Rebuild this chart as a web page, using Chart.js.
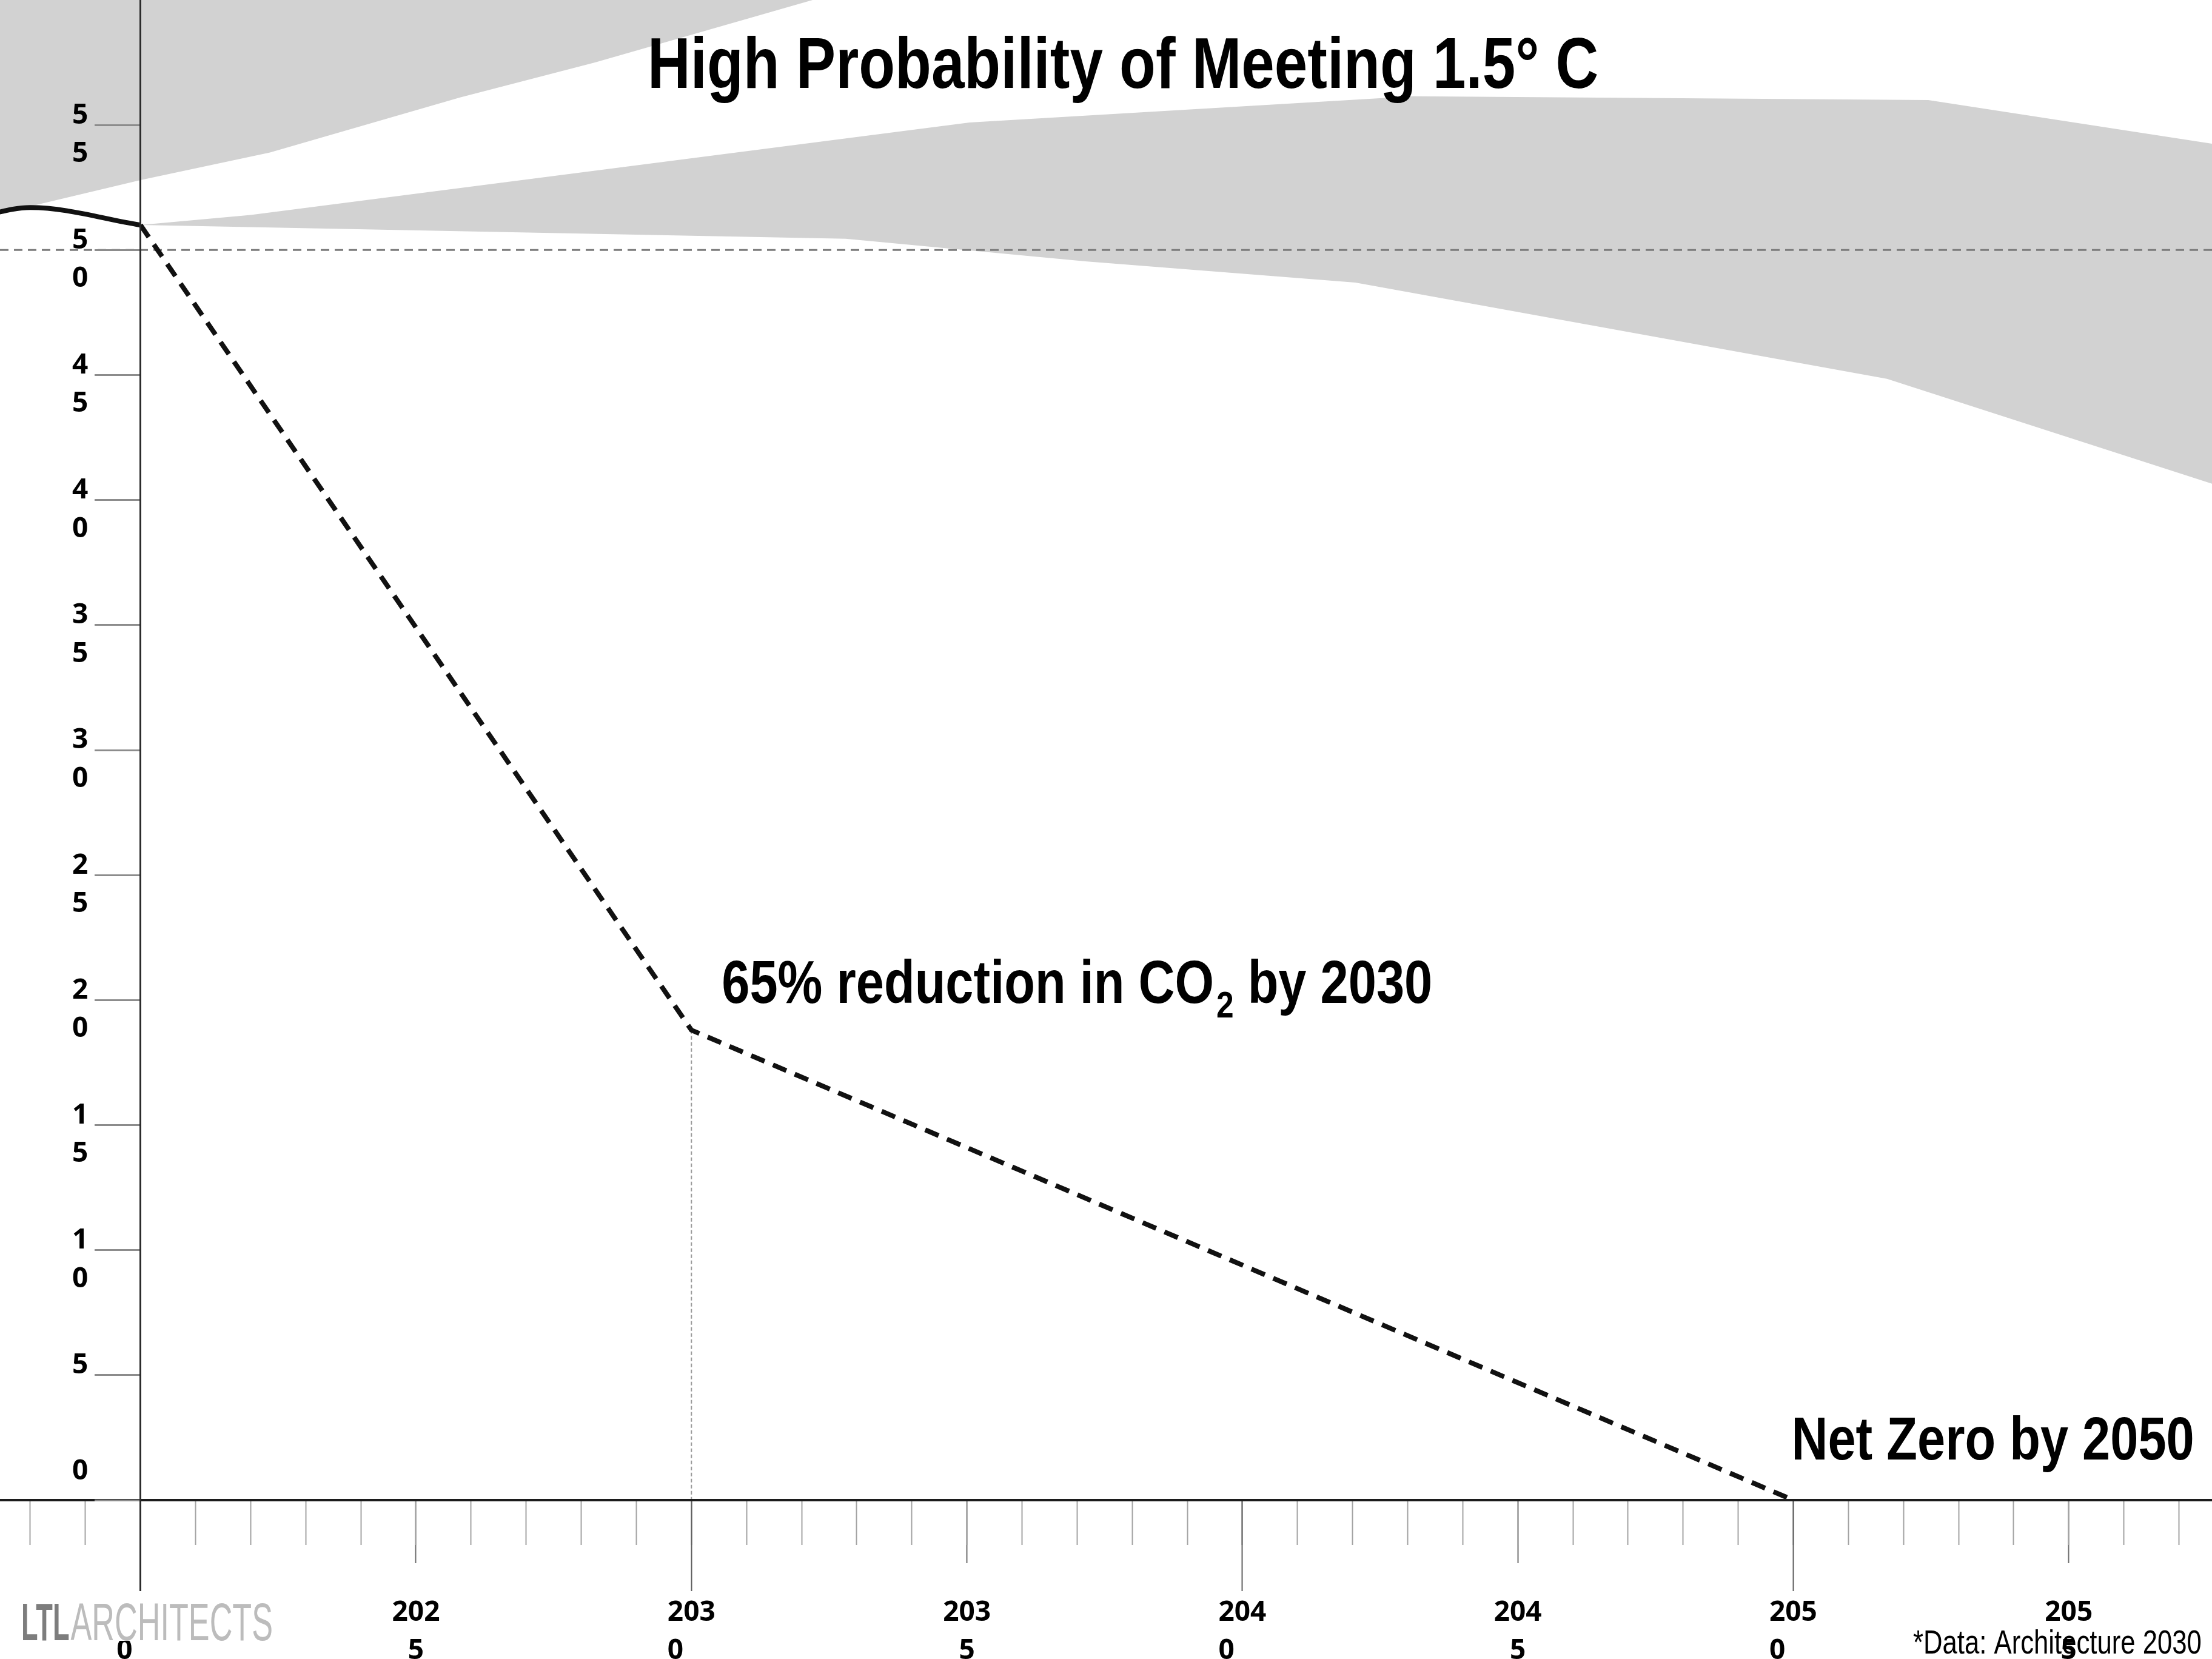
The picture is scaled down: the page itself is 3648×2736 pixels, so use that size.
<!DOCTYPE html>
<html>
<head>
<meta charset="utf-8">
<title>High Probability of Meeting 1.5° C</title>
<script src="https://cdn.jsdelivr.net/npm/chart.js@4.4.1/dist/chart.umd.min.js"></script>
<style>
  html, body { margin: 0; padding: 0; background: #ffffff; }
  #wrap { position: relative; width: 3648px; height: 2736px; overflow: hidden; background: #ffffff; }
  #wrap canvas { display: block; }
</style>
</head>
<body>
<div id="wrap"><canvas id="chart"></canvas></div>
<script>
// ---- axis ranges ----
const X_MIN = 2017.45;
const X_MAX = 2057.6;
const Y_MIN = 0;
const Y_MAX = 60;
// the vertical axis sits on 2020; its labels are set in a column just left of the tick marks
const AXIS_YEAR = 2020;
const LABEL_COLUMN_YEAR = 2019.05;

// ---- historical emissions (Gt CO2) ----
const historyYears  = [2017, 2018, 2020];
const historyValues = [51.3, 51.7, 51.0];

// ---- reduction pathway: 65% by 2030, net zero by 2050 ----
const pathwayYears  = [2020, 2030, 2050];
const pathwayValues = [51.0, 18.8, 0];

// ---- shaded region above the high-emission edge ----
const highEdgeYears  = [2017.45, 2018, 2020, 2022.35, 2025.8, 2028.25, 2032.2];
const highEdgeValues = [51.55, 51.75, 52.8, 53.9, 56.1, 57.5, 60.0];

// ---- shaded scenario band ----
const bandUpperYears  = [2020, 2022, 2035.05, 2043.1, 2052.45, 2057.6];
const bandUpperValues = [51.0, 51.4, 55.1, 56.15, 56.0, 54.25];
const bandLowerYears  = [2020, 2032.8, 2037.15, 2042.05, 2051.7, 2057.6];
const bandLowerValues = [51.0, 50.45, 49.55, 48.7, 44.85, 40.65];

// ---- reference level ----
const referenceLevel = 50;

// ---- tick values and labels ----
const yTickValues = [0, 5, 10, 15, 20, 25, 30, 35, 40, 45, 50, 55];
const yTickLabels = [
  ['0', '', ''], ['5', ''], ['1', '0'], ['1', '5'], ['2', '0'], ['2', '5'],
  ['3', '0'], ['3', '5'], ['4', '0'], ['4', '5'], ['5', '0'], ['5', '5']
];
const FS = '\u2007';
const xTickValues = [2020, 2025, 2030, 2035, 2040, 2045, 2050, 2055];
const xTickLabels = [
  ['202', '0' + FS + FS], ['202', '5'], ['203', '0' + FS + FS], ['203', '5'],
  ['204', '0' + FS + FS], ['204', '5'], ['205', '0' + FS + FS], ['205', '5']
];
const midTickValues = [2025, 2035, 2045, 2055];
const minorTickValues = [
  2018, 2019, 2020, 2021, 2022, 2023, 2024, 2025, 2026, 2027,
  2028, 2029, 2030, 2031, 2032, 2033, 2034, 2035, 2036, 2037,
  2038, 2039, 2040, 2041, 2042, 2043, 2044, 2045, 2046, 2047,
  2048, 2049, 2050, 2051, 2052, 2053, 2054, 2055, 2056, 2057
];

// ---- text ----
const TITLE = 'High Probability of Meeting 1.5\u00B0 C';
const NOTE_2030 = ['65% reduction in CO', '2', ' by 2030'];
const NOTE_2050 = 'Net Zero by 2050';
const SOURCE = '*Data: Architecture 2030';
const LOGO = ['LTL', 'ARCHITECTS'];

const SHADE = '#d2d2d2';
const INK = '#111111';

const pts = (xs, ys) => xs.map((x, i) => ({ x: x, y: ys[i] }));

const tickFont = { family: '"Open Sans", "Noto Sans", sans-serif', weight: 'bold', size: 46, lineHeight: 1.38 };

function zeroPad(s) {
  s.paddingTop = 0; s.paddingBottom = 0; s.paddingLeft = 0; s.paddingRight = 0;
}

// draw horizontally condensed text
function condensed(ctx, text, x, y, font, sx, color) {
  ctx.save();
  ctx.font = font;
  ctx.fillStyle = color;
  ctx.textAlign = 'left';
  ctx.textBaseline = 'alphabetic';
  ctx.translate(x, y);
  ctx.scale(sx, 1);
  ctx.fillText(text, 0, 0);
  const w = ctx.measureText(text).width * sx;
  ctx.restore();
  return w;
}

const annotations = {
  id: 'annotations',
  afterDraw(chart) {
    const ctx = chart.ctx;
    const xs = chart.scales.x, ys = chart.scales.y;
    const SANS = '"Liberation Sans", Arial, sans-serif';

    // title
    condensed(ctx, TITLE, 1068, 145, 'bold 118px ' + SANS, 0.83, '#000');

    // 2030 milestone
    let px = xs.getPixelForValue(pathwayYears[1]) + 50;
    let py = ys.getPixelForValue(pathwayValues[1]) - 45;
    px += condensed(ctx, NOTE_2030[0], px, py, 'bold 100px ' + SANS, 0.83, '#000');
    px += 4;
    px += condensed(ctx, NOTE_2030[1], px, py + 24, 'bold 62px ' + SANS, 0.83, '#000');
    condensed(ctx, NOTE_2030[2], px, py, 'bold 100px ' + SANS, 0.83, '#000');

    // 2050 milestone
    const nx = xs.getPixelForValue(pathwayYears[2]) - 3;
    const ny = ys.getPixelForValue(pathwayValues[2]) - 67;
    condensed(ctx, NOTE_2050, nx, ny, 'bold 100px ' + SANS, 0.83, '#000');

    // source note
    condensed(ctx, SOURCE, 3155, 2727, '56px ' + SANS, 0.78, '#000');

    // logo
    ctx.save();
    ctx.fillStyle = '#ffffff';
    ctx.fillRect(28, 2632, 436, 74);
    ctx.restore();
    const lw = condensed(ctx, LOGO[0], 35, 2705, 'bold 87px ' + SANS, 0.52, '#7d7d7d');
    condensed(ctx, LOGO[1], 35 + lw + 2, 2705, '87px ' + SANS, 0.6, '#bcbcbc');
  }
};

const yLabelOf = v => {
  const i = yTickValues.indexOf(v);
  return i >= 0 ? yTickLabels[i] : '';
};

const chart = new Chart(document.getElementById('chart'), {
  type: 'line',
  data: {
    datasets: [
      {
        label: 'High emissions',
        data: pts(highEdgeYears, highEdgeValues),
        fill: 'end',
        backgroundColor: SHADE,
        borderColor: 'rgba(0,0,0,0)',
        borderWidth: 0,
        pointRadius: 0,
        order: 10
      },
      {
        label: 'Scenario band (upper)',
        data: pts(bandUpperYears, bandUpperValues),
        fill: '+1',
        backgroundColor: SHADE,
        borderColor: 'rgba(0,0,0,0)',
        borderWidth: 0,
        pointRadius: 0,
        order: 9
      },
      {
        label: 'Scenario band (lower)',
        data: pts(bandLowerYears, bandLowerValues),
        fill: false,
        borderColor: 'rgba(0,0,0,0)',
        borderWidth: 0,
        pointRadius: 0,
        order: 9
      },
      {
        label: 'Reference level',
        data: [{ x: X_MIN, y: referenceLevel }, { x: X_MAX, y: referenceLevel }],
        fill: false,
        borderColor: '#7c7c7c',
        borderWidth: 3,
        borderDash: [14, 9],
        pointRadius: 0,
        order: 6
      },
      {
        label: '2030 marker',
        data: [{ x: pathwayYears[1], y: pathwayValues[1] }, { x: pathwayYears[1], y: 0 }],
        fill: false,
        borderColor: '#9a9a9a',
        borderWidth: 2,
        borderDash: [6, 4],
        pointRadius: 0,
        order: 5
      },
      {
        label: 'Historical',
        data: pts(historyYears, historyValues),
        fill: false,
        borderColor: INK,
        borderWidth: 8,
        cubicInterpolationMode: 'monotone',
        borderJoinStyle: 'round',
        pointRadius: 0,
        order: 2
      },
      {
        label: 'Pathway',
        data: pts(pathwayYears, pathwayValues),
        fill: false,
        borderColor: INK,
        borderWidth: 8,
        borderDash: [24, 15],
        borderCapStyle: 'butt',
        pointRadius: 0,
        order: 1
      }
    ]
  },
  options: {
    responsive: true,
    maintainAspectRatio: false,
    devicePixelRatio: 1,
    animation: false,
    events: [],
    layout: { padding: 0, autoPadding: false },
    plugins: {
      legend: { display: false },
      title: { display: false },
      tooltip: { enabled: false }
    },
    scales: {
      x: {
        type: 'linear',
        position: 'bottom',
        weight: 1,
        min: X_MIN,
        max: X_MAX,
        afterBuildTicks: s => { s.ticks = xTickValues.map(v => ({ value: v })); },
        afterFit: s => { s.height = 262; zeroPad(s); },
        border: { display: true, color: '#1c1c1c', width: 4, z: 1 },
        grid: {
          drawOnChartArea: false,
          drawTicks: true,
          tickLength: 150,
          z: 1,
          tickWidth: c => (c.tick && c.tick.value === AXIS_YEAR) ? 3 : 2,
          tickColor: c => {
            if (!c.tick) return 'rgba(0,0,0,0)';
            if (c.tick.value === AXIS_YEAR) return '#2b2b2b';
            return c.tick.value % 10 === 0 ? '#5e5e5e' : 'rgba(0,0,0,0)';
          }
        },
        ticks: {
          autoSkip: false,
          maxRotation: 0,
          minRotation: 0,
          padding: 4,
          color: '#000',
          font: tickFont,
          callback: v => {
            const i = xTickValues.indexOf(v);
            return i >= 0 ? xTickLabels[i] : '';
          }
        }
      },
      xMid: {
        type: 'linear',
        position: 'bottom',
        weight: 0,
        min: X_MIN,
        max: X_MAX,
        afterBuildTicks: s => { s.ticks = midTickValues.map(v => ({ value: v })); },
        afterFit: s => { s.height = 0; zeroPad(s); },
        border: { display: false },
        grid: { drawOnChartArea: false, drawTicks: true, tickLength: 104, tickWidth: 2, tickColor: '#6e6e6e' },
        ticks: { display: false }
      },
      xMinor: {
        type: 'linear',
        position: 'bottom',
        weight: 0,
        min: X_MIN,
        max: X_MAX,
        afterBuildTicks: s => { s.ticks = minorTickValues.map(v => ({ value: v })); },
        afterFit: s => { s.height = 0; zeroPad(s); },
        border: { display: false },
        grid: { drawOnChartArea: false, drawTicks: true, tickLength: 74, tickWidth: 2, tickColor: '#a3a3a3' },
        ticks: { display: false }
      },
      y: {
        type: 'linear',
        position: { x: AXIS_YEAR },
        min: Y_MIN,
        max: Y_MAX,
        afterBuildTicks: s => { s.ticks = yTickValues.map(v => ({ value: v })); },
        afterFit: s => { s.width = 0; zeroPad(s); },
        border: { display: true, color: '#2b2b2b', width: 3, z: 1 },
        grid: { drawOnChartArea: false, drawTicks: true, tickLength: 74, tickWidth: 3, tickColor: '#8c8c8c', z: 1 },
        ticks: { display: false }
      },
      yLabels: {
        type: 'linear',
        position: { x: LABEL_COLUMN_YEAR },
        min: Y_MIN,
        max: Y_MAX,
        afterBuildTicks: s => { s.ticks = yTickValues.map(v => ({ value: v })); },
        afterFit: s => { s.width = 0; zeroPad(s); },
        border: { display: false },
        grid: { display: false },
        ticks: {
          autoSkip: false,
          padding: 0,
          labelOffset: 16,
          color: '#000',
          font: tickFont,
          z: 1,
          callback: yLabelOf
        }
      }
    }
  },
  plugins: [annotations]
});
</script>
</body>
</html>
